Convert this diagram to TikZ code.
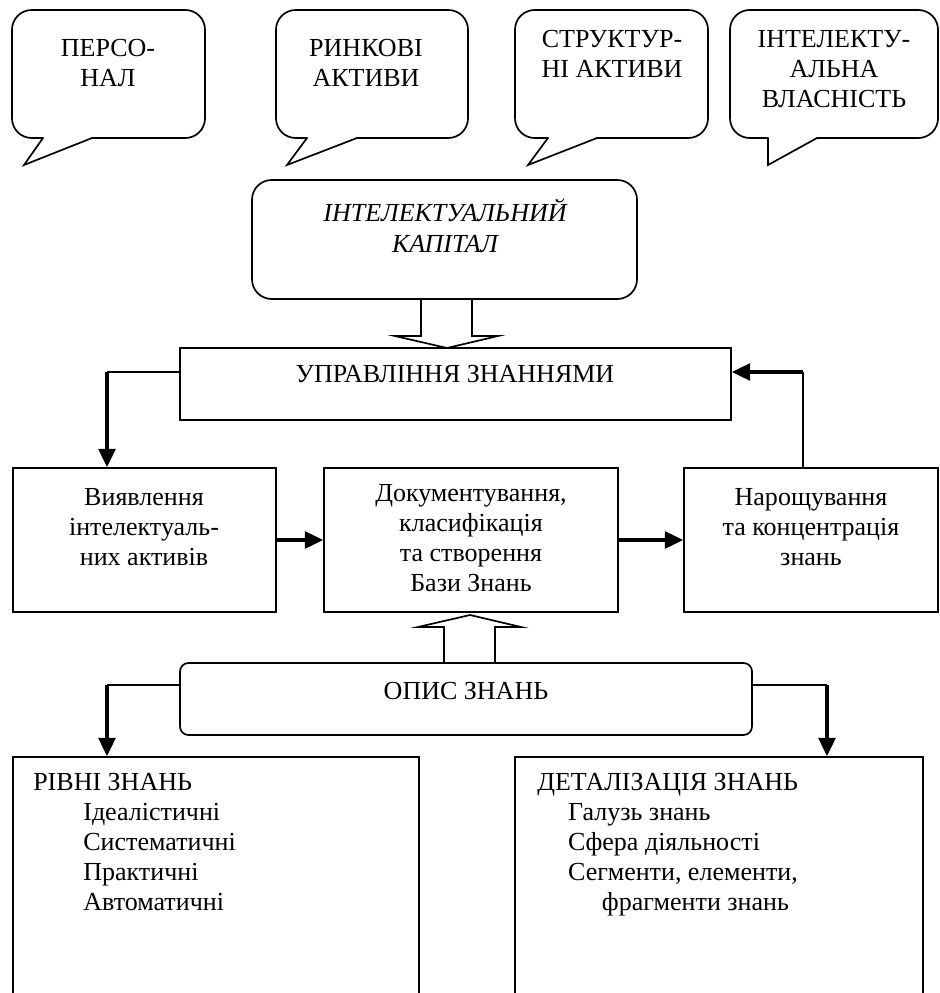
\documentclass[tikz,border=0pt]{standalone}
\usepackage{fontspec}
\setmainfont{Liberation Serif}
\usetikzlibrary{arrows.meta, fit}

\tikzset{
  box/.style={draw, line width=1.2pt, inner sep=0pt},
  txt/.style={inner sep=0pt, align=center, font=\fontsize{18.5pt}{21.3pt}\selectfont},
  link/.style={line width=1.2pt},
  arr/.style={line width=2.2pt, -{Triangle[length=13pt,width=12pt]}},
  bubble/.style={line width=1.2pt, line cap=round, line join=miter},
}

\begin{document}
\begin{tikzpicture}[x=0.025cm, y=-0.025cm]

\useasboundingbox (0,0) rectangle (940,993);
\clip (0,0) rectangle (940,993);

% Callouts
\draw [bubble, rounded corners=14pt] (92,138) -- (205,138) -- (205,10) -- (12,10) -- (12,138) -- (43,138);
\draw [bubble] (43,138) -- (24,165) -- (92,138);
\draw [bubble, rounded corners=14pt] (357,138) -- (468,138) -- (468,10) -- (276,10) -- (276,138) -- (307,138);
\draw [bubble] (307,138) -- (287,165) -- (357,138);
\draw [bubble, rounded corners=14pt] (597,138) -- (708,138) -- (708,10) -- (515,10) -- (515,138) -- (548,138);
\draw [bubble] (548,138) -- (528,165) -- (597,138);
\draw [bubble, rounded corners=14pt] (817,138) -- (938,138) -- (938,10) -- (730,10) -- (730,138) -- (768,138);
\draw [bubble] (768,138) -- (768,165) -- (817,138);

\node [txt, anchor=north] (persT) at (108,39) {ПЕРСО-\\НАЛ};
\node [txt, anchor=north] (rynkT) at (366,39) {РИНКОВІ\\АКТИВИ};
\node [txt, anchor=north] (strukT) at (612,30) {СТРУКТУР-\\НІ АКТИВИ};
\node [txt, anchor=north] (vlasT) at (834,30) {ІНТЕЛЕКТУ-\\АЛЬНА\\ВЛАСНІСТЬ};

% Boxes
\node [box, rounded corners=14pt, fit={(252,180) (637,299)}] (kap) {};
\node [box, fit={(180,348) (731,420)}] (upr) {};
\node [box, fit={(13,468) (276,612)}] (vyjav) {};
\node [box, fit={(324,468) (618,612)}] (doku) {};
\node [box, fit={(684,468) (938,612)}] (naro) {};
\node [box, rounded corners=6pt, fit={(180,663) (752,735)}] (opys) {};
\node [box, fit={(13,757) (419,1010)}] (rivni) {};
\node [box, fit={(515,757) (923,1010)}] (detal) {};

% Box texts
\node [txt, anchor=north, font=\fontsize{18.5pt}{22.5pt}\selectfont\itshape] (kapT) at (445,198) {ІНТЕЛЕКТУАЛЬНИЙ\\КАПІТАЛ};
\node [txt, anchor=north] (uprT) at (455,365) {УПРАВЛІННЯ ЗНАННЯМИ};
\node [txt, anchor=north] (vyjavT) at (144,488) {Виявлення\\інтелектуаль-\\них активів};
\node [txt, anchor=north] (dokuT) at (471,484) {Документування,\\класифікація\\та створення\\Бази Знань};
\node [txt, anchor=north] (naroT) at (811,488) {Нарощування\\та концентрація\\знань};
\node [txt, anchor=north] (opysT) at (466,682) {ОПИС ЗНАНЬ};
\node [txt, anchor=north west, align=left] (rivniT) at (33,773)
  {РІВНІ ЗНАНЬ\\\hspace*{35.6pt}Ідеалістичні\\\hspace*{35.6pt}Систематичні\\\hspace*{35.6pt}Практичні\\\hspace*{35.6pt}Автоматичні};
\node [txt, anchor=north west, align=left] (detalT) at (537,773)
  {ДЕТАЛІЗАЦІЯ ЗНАНЬ\\\hspace*{22pt}Галузь знань\\\hspace*{22pt}Сфера діяльності\\\hspace*{22pt}Сегменти, елементи,\\\hspace*{46pt}фрагменти знань};

% Hollow arrows
\draw [link] (421,299) -- (421,336) -- (395,336) -- (447,348) -- (498,336) -- (472,336) -- (472,299);
\draw [link] (444,663) -- (444,627) -- (418,627) -- (470,615) -- (521,627) -- (495,627) -- (495,663);

% Connectors
\coordinate (uL) at (107,372);
\coordinate (uR) at (803,372);
\coordinate (oL) at (107,685);
\coordinate (oR) at (827,685);

\draw [link] (upr.west |- uL) -- (uL);
\draw [arr] (uL) -- (uL |- vyjav.north);
\draw [link] (naro.north -| uR) -- (uR);
\draw [arr] (uR) -- (uR -| upr.east);
\draw [arr] (vyjav.east) -- (doku.west);
\draw [arr] (doku.east) -- (naro.west);
\draw [link] (opys.west |- oL) -- (oL);
\draw [arr] (oL) -- (oL |- rivni.north);
\draw [link] (opys.east |- oR) -- (oR);
\draw [arr] (oR) -- (oR |- detal.north);

\end{tikzpicture}
\end{document}
